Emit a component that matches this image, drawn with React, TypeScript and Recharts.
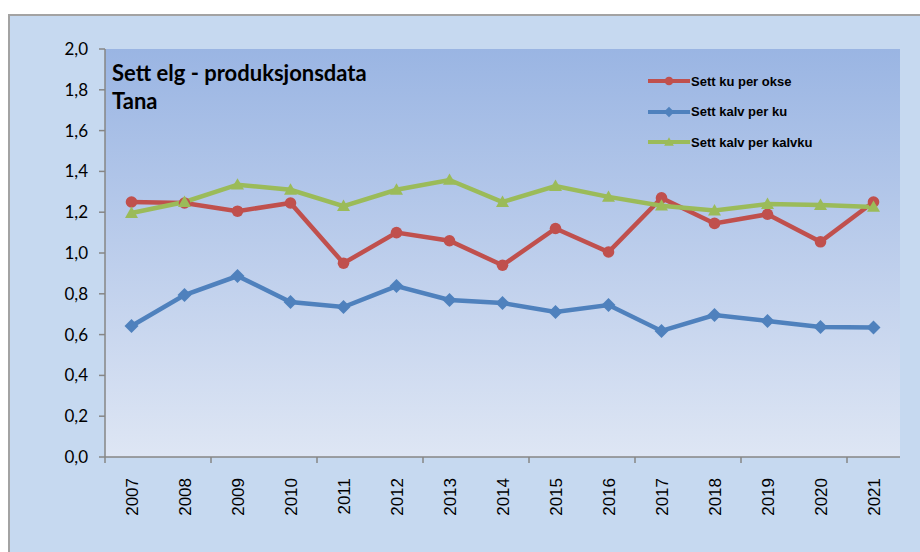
import { CartesianGrid, Line, LineChart, XAxis, YAxis } from 'recharts'

// Sett elg - produksjonsdata, Tana
const years = [
  '2007', '2008', '2009', '2010', '2011', '2012', '2013', '2014',
  '2015', '2016', '2017', '2018', '2019', '2020', '2021',
]
const kuPerOkse = [
  1.25, 1.245, 1.205, 1.245, 0.95, 1.1, 1.06, 0.94, 1.12, 1.005, 1.27, 1.145, 1.19, 1.055, 1.25,
]
const kalvPerKu = [
  0.642, 0.794, 0.887, 0.76, 0.735, 0.838, 0.77, 0.755, 0.711, 0.745, 0.618, 0.696, 0.667, 0.637, 0.635,
]
const kalvPerKalvku = [
  1.196, 1.25, 1.335, 1.31, 1.23, 1.31, 1.358, 1.25, 1.328, 1.275, 1.232, 1.208, 1.24, 1.235, 1.226,
]
const yTicks = [0, 0.2, 0.4, 0.6, 0.8, 1.0, 1.2, 1.4, 1.6, 1.8, 2.0]

const RED = '#c0504d'
const BLUE = '#4f81bd'
const GREEN = '#9bbb59'
const AXIS = '#868686'

const SERIES = [
  { key: 'ku', name: 'Sett ku per okse', color: RED, shape: 'circle' },
  { key: 'kalv', name: 'Sett kalv per ku', color: BLUE, shape: 'diamond' },
  { key: 'kalvku', name: 'Sett kalv per kalvku', color: GREEN, shape: 'triangle' },
]

const rows = years.map((year, i) => ({
  year,
  ku: kuPerOkse[i],
  kalv: kalvPerKu[i],
  kalvku: kalvPerKalvku[i],
}))

function Marker({ cx, cy, shape, color, size = 1 }: any) {
  if (cx == null || cy == null) return null
  if (shape === 'diamond') {
    const r = 7 * size
    return (
      <polygon
        points={`${cx},${cy - r} ${cx + r},${cy} ${cx},${cy + r} ${cx - r},${cy}`}
        fill={color}
      />
    )
  }
  if (shape === 'triangle') {
    const r = 6.5 * size
    return (
      <polygon
        points={`${cx},${cy - r} ${cx + r},${cy + r * 0.75} ${cx - r},${cy + r * 0.75}`}
        fill={color}
      />
    )
  }
  return <circle cx={cx} cy={cy} r={5.8 * size} fill={color} />
}

// rotated year label; Excel-style tick mark on every second category boundary
function YearTick({ x, y, payload, index, width, visibleTicksCount }: any) {
  const half = width / visibleTicksCount / 2
  const ty = y + 13
  return (
    <g>
      {index % 2 === 0 && (
        <line x1={x - half} y1={y - 8} x2={x - half} y2={y - 2} stroke={AXIS} strokeWidth={1.5} />
      )}
      <text
        x={x}
        y={ty}
        transform={`rotate(-90 ${x} ${ty})`}
        textAnchor="end"
        dy="0.36em"
        fontFamily="Liberation Sans, Arial, sans-serif"
        fontSize={17}
        fill="#000"
      >
        {payload.value}
      </text>
    </g>
  )
}

function LegendBox() {
  return (
    <div style={{ position: 'absolute', left: 637, top: 50, width: 240, height: 100 }}>
      {SERIES.map((s, i) => (
        <div
          key={s.key}
          style={{ position: 'absolute', left: 0, top: i * 30.5, height: 30, display: 'flex', alignItems: 'center' }}
        >
          <svg width={44} height={20} style={{ display: 'block' }}>
            <line x1={1} y1={10} x2={43} y2={10} stroke={s.color} strokeWidth={4} />
            <Marker cx={22} cy={10} shape={s.shape} color={s.color} size={0.75} />
          </svg>
          <span
            style={{
              fontFamily: 'Liberation Sans, Arial, sans-serif',
              fontWeight: 'bold',
              fontSize: 13,
              color: '#000',
              whiteSpace: 'nowrap',
            }}
          >
            {s.name}
          </span>
        </div>
      ))}
    </div>
  )
}

export default function App() {
  return (
    <div
      style={{
        position: 'absolute',
        left: 8,
        top: 14,
        width: 910,
        height: 536,
        background: '#c6d9f0',
        borderTop: '2px solid #a3a3a3',
        borderLeft: '2px solid #a3a3a3',
      }}
    >
      <LineChart
        width={910}
        height={536}
        data={rows}
        margin={{ top: 33, right: 20, bottom: 35, left: 35 }}
      >
        <defs>
          <linearGradient id="plotFill" x1="0" y1="0" x2="0" y2="1">
            <stop offset="0%" stopColor="#9ab5e3" />
            <stop offset="100%" stopColor="#dee6f4" />
          </linearGradient>
        </defs>
        <CartesianGrid horizontal={false} vertical={false} fill="url(#plotFill)" fillOpacity={1} />
        <XAxis
          dataKey="year"
          interval={0}
          padding={{ left: 26.5, right: 26.5 }}
          height={60}
          axisLine={{ stroke: AXIS, strokeWidth: 1.5 }}
          tickLine={false}
          tick={<YearTick />}
        />
        <YAxis
          domain={[0, 2]}
          ticks={yTicks}
          interval={0}
          width={60}
          axisLine={{ stroke: AXIS, strokeWidth: 1.5 }}
          tickLine={{ stroke: AXIS, strokeWidth: 1.5 }}
          tickSize={6}
          tickMargin={11}
          tickFormatter={(v: number) => v.toFixed(1).replace('.', ',')}
          tick={{ fontFamily: 'Lato, sans-serif', fontSize: 17, fill: '#000' }}
        />
        {SERIES.map((s) => (
          <Line
            key={s.key}
            dataKey={s.key}
            name={s.name}
            stroke={s.color}
            strokeWidth={4.5}
            isAnimationActive={false}
            dot={(p: any) => <Marker key={p.index} cx={p.cx} cy={p.cy} shape={s.shape} color={s.color} />}
            activeDot={false}
          />
        ))}
      </LineChart>
      <LegendBox />
      <div
        style={{
          position: 'absolute',
          left: 102,
          top: 43,
          fontFamily: 'Lato, sans-serif',
          fontWeight: 'bold',
          fontSize: 22,
          lineHeight: '28px',
          color: '#000',
        }}
      >
        Sett elg - produksjonsdata
        <br />
        Tana
      </div>
    </div>
  )
}
